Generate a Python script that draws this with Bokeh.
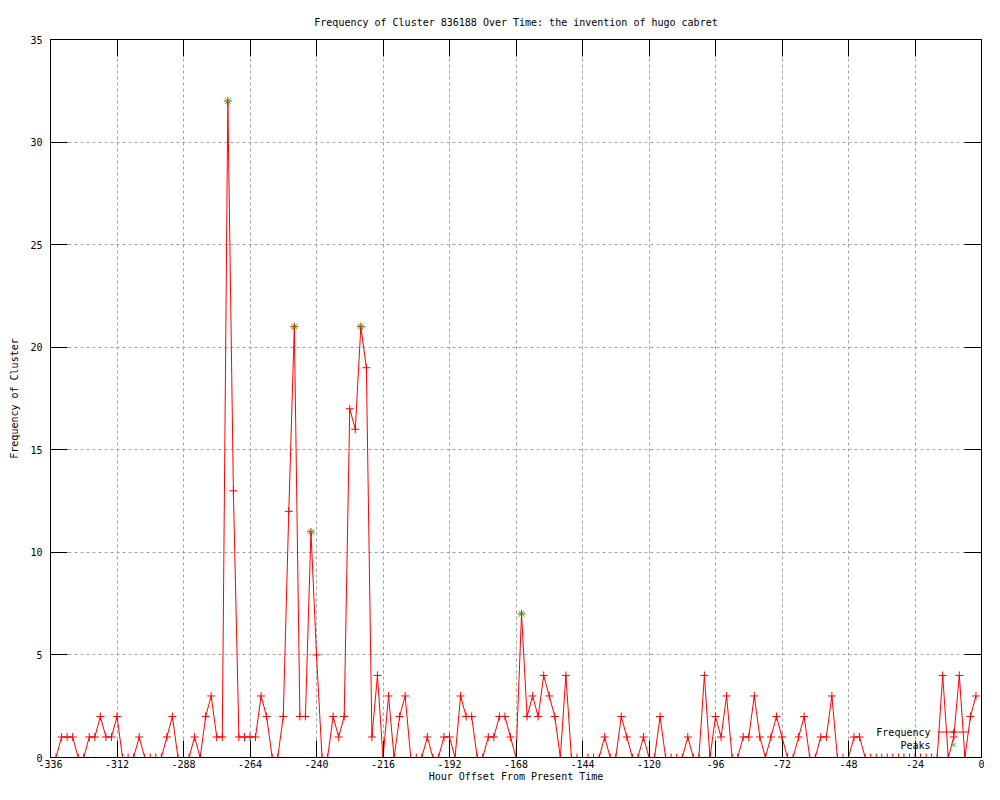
from bokeh.plotting import figure
from bokeh.models import Range1d, FixedTicker, LinearAxis, Legend, LegendItem, Label, ColumnDataSource
from bokeh.embed import file_html
from bokeh.resources import INLINE

# ---------------- data ----------------
title_text = "Frequency of Cluster 836188 Over Time: the invention of hugo cabret"
x_label = "Hour Offset From Present Time"
y_label = "Frequency of Cluster"

hours = list(range(-336, 0, 2))
freq = [0, 0, 1, 1, 1, 0, 0, 1, 1, 2, 1, 1, 2, 0, 0, 0, 1, 0, 0, 0,
        0, 1, 2, 0, 0, 0, 1, 0, 2, 3, 1, 1, 32, 13, 1, 1, 1, 1, 3, 2,
        0, 0, 2, 12, 21, 2, 2, 11, 5, 0, 0, 2, 1, 2, 17, 16, 21, 19, 1, 4,
        0, 3, 0, 2, 3, 0, 0, 0, 1, 0, 0, 1, 1, 0, 3, 2, 2, 0, 0, 1,
        1, 2, 2, 1, 0, 7, 2, 3, 2, 4, 3, 2, 0, 4, 0, 0, 0, 0, 0, 0,
        1, 0, 0, 2, 1, 0, 0, 1, 0, 0, 2, 0, 0, 0, 0, 1, 0, 0, 4, 0,
        2, 1, 3, 0, 0, 1, 1, 3, 1, 0, 1, 2, 1, 0, 0, 1, 2, 0, 0, 1,
        1, 3, 0, 0, 0, 1, 1, 0, 0, 0, 0, 0, 0, 0, 0, 0, 0, 0, 0, 0,
        0, 4, 0, 1, 4, 0, 2, 3]
peak_hours = [-272, -248, -242, -224, -166]
peak_values = [32, 21, 11, 21, 7]

x_ticks = [-336, -312, -288, -264, -240, -216, -192, -168, -144, -120, -96, -72, -48, -24, 0]
x_tick_labels = ["-336", "-312", "-288", "-264", "-240", "-216", "-192", "-168", "-144",
                 "-120", "-96", "-72", "-48", "-24", "0"]
y_ticks = [0, 5, 10, 15, 20, 25, 30, 35]

FONT = "DejaVu Sans Mono"
FS = "10px"

p = figure(width=984, height=784, output_backend="svg", toolbar_location=None,
           x_range=Range1d(-336, 0), y_range=Range1d(0, 35),
           min_border_left=50, min_border_right=3, min_border_top=39, min_border_bottom=26,
           title=title_text)

p.title.text_font = FONT
p.title.text_font_size = FS
p.title.text_font_style = "normal"
p.title.align = "center"
p.title.text_color = "black"
p.title.standoff = 24

p.background_fill_color = "white"
p.border_fill_color = "white"
p.outline_line_color = "black"
p.outline_line_alpha = 1.0

xt = FixedTicker(ticks=x_ticks)
yt = FixedTicker(ticks=y_ticks)

overrides = {float(t): lab for t, lab in zip(x_ticks, x_tick_labels)}

xa = p.xaxis[0]
xa.ticker = xt
xa.major_label_overrides = overrides
ya = p.yaxis[0]
ya.ticker = yt

for ax in (xa, ya):
    ax.major_tick_in = 17
    ax.major_tick_out = 0
    ax.minor_tick_line_color = None
    ax.axis_line_color = "black"
    ax.major_tick_line_color = "black"
    ax.major_label_text_font = FONT
    ax.major_label_text_font_size = FS
    ax.major_label_text_color = "black"
    ax.axis_label_text_font = FONT
    ax.axis_label_text_font_size = FS
    ax.axis_label_text_font_style = "normal"
    ax.axis_label_text_color = "black"

xa.axis_label = x_label
ya.axis_label = y_label
xa.major_label_standoff = 2
xa.axis_label_standoff = 0
ya.major_label_standoff = 8
ya.axis_label_standoff = 7

# mirror axes (ticks only)
top = LinearAxis(ticker=xt)
right = LinearAxis(ticker=yt)
for ax in (top, right):
    ax.major_tick_in = 17
    ax.major_tick_out = 0
    ax.minor_tick_line_color = None
    ax.axis_line_color = "black"
    ax.major_tick_line_color = "black"
    ax.major_label_text_font_size = "0px"
    ax.major_label_text_color = None
    ax.major_label_standoff = 0
p.add_layout(top, "above")
p.add_layout(right, "right")

for g, t in ((p.xgrid[0], xt), (p.ygrid[0], yt)):
    g.ticker = t
    g.grid_line_color = "#a0a0a0"
    g.grid_line_dash = "3 3"
    g.grid_line_width = 1

src = ColumnDataSource(dict(x=hours, y=freq))
psrc = ColumnDataSource(dict(x=peak_hours, y=peak_values))

line_r = p.line("x", "y", source=src, line_color="#ff0000", line_width=1)
pts_r = p.scatter("x", "y", source=src, marker="cross", size=8, line_color="#ff0000",
                  line_width=1)
peak_r = p.scatter("x", "y", source=psrc, marker="x", size=8, line_color="#00c000",
                   line_width=1)

legend = Legend(items=[LegendItem(label=" ", renderers=[line_r, pts_r]),
                       LegendItem(label=" ", renderers=[peak_r])],
                location=(887, 6), glyph_width=32, glyph_height=13, label_height=13,
                label_width=0, label_standoff=0, padding=0, margin=0, spacing=0,
                border_line_color=None, background_fill_alpha=0,
                label_text_font_size="1px")
p.add_layout(legend)

p.add_layout(Label(x=-18.4, y=1.22, text="Frequency", text_align="right",
                   text_baseline="middle", text_font=FONT, text_font_size=FS,
                   text_color="black"))
p.add_layout(Label(x=-18.4, y=0.58, text="Peaks", text_align="right",
                   text_baseline="middle", text_font=FONT, text_font_size=FS,
                   text_color="black"))

open("out.html", "w").write(file_html(p, INLINE))
